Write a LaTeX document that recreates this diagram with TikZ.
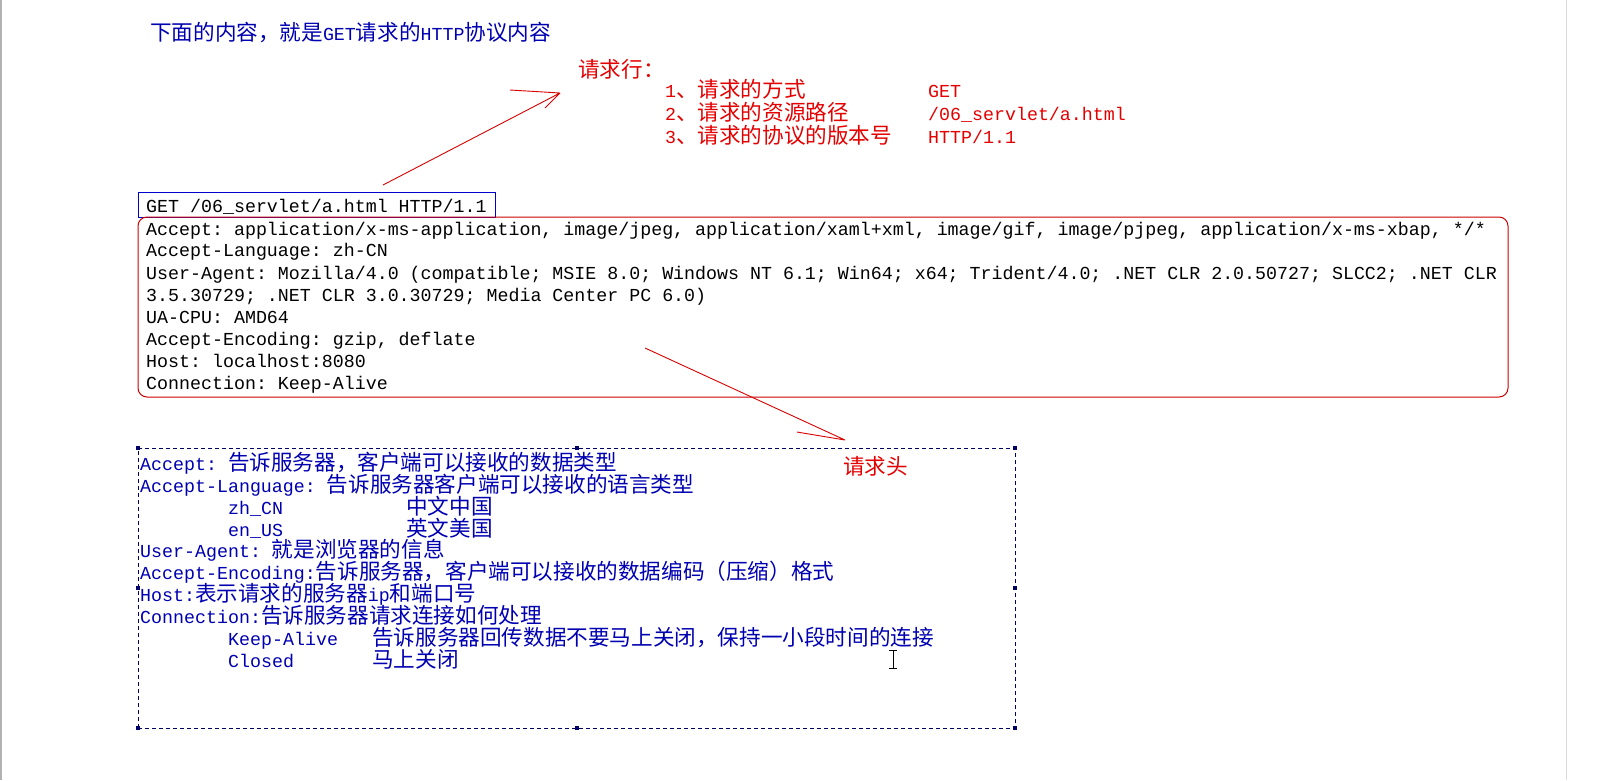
\documentclass[tikz,border=0pt]{standalone}
\usepackage{fontspec}
\setmonofont{Liberation Mono}
\newfontfamily\cjk{Noto Sans CJK SC}
\newcommand\zh[1]{{\cjk\fontsize{21.6}{22}\selectfont #1}}
\begin{document}
\begin{tikzpicture}[x=1pt,y=-1pt,
  txt/.style={anchor=base west,inner sep=0pt,font=\ttfamily\fontsize{18.3}{22}\selectfont},
  bl/.style={txt,text=blue!70!black},
  rd/.style={txt,text=red!90!black},
  bk/.style={txt,text=black},
  handle/.style={fill=blue!40!black,minimum size=4pt,inner sep=0pt}]
\useasboundingbox (0,0) rectangle (1604,780);
\fill[white] (0,0) rectangle (1604,780);
\draw[gray!60,line width=1.5pt] (1,0)--(1,780);
\draw[gray!30] (1566,0)--(1566,780);
\node[bl] (title) at (150,40) {\zh{下面的内容，就是}GET\zh{请求的}HTTP\zh{协议内容}};
% request line annotation
\node[rd] (rl) at (578,77) {\zh{请求行：}};
\node[rd] (r1) at (665,97) {1\zh{、请求的方式}};
\node[rd] (r2) at (665,120) {2\zh{、请求的资源路径}};
\node[rd] (r3) at (665,143) {3\zh{、请求的协议的版本号}};
\node[rd] (v1) at (928,97) {GET};
\node[rd] (v2) at (928,120) {/06\_servlet/a.html};
\node[rd] (v3) at (928,143) {HTTP/1.1};
% request boxes
\node[draw=blue!80!black,line width=1pt,minimum width=357pt,minimum height=25pt,inner sep=0pt] (reqline) at (316.5,204.5) {};
\node[bk] (l0) at (146,212) {GET /06\_servlet/a.html HTTP/1.1};
\node[draw=red!80!black,line width=1pt,rounded corners=9pt,minimum width=1370pt,minimum height=180pt,inner sep=0pt] (headers) at (823,307) {};
\node[bk] (h1) at (146,235) {Accept: application/x-ms-application, image/jpeg, application/xaml+xml, image/gif, image/pjpeg, application/x-ms-xbap, */*};
\node[bk] (h2) at (146,256) {Accept-Language: zh-CN};
\node[bk] (h3) at (146,279) {User-Agent: Mozilla/4.0 (compatible; MSIE 8.0; Windows NT 6.1; Win64; x64; Trident/4.0; .NET CLR 2.0.50727; SLCC2; .NET CLR};
\node[bk] (h4) at (146,301) {3.5.30729; .NET CLR 3.0.30729; Media Center PC 6.0)};
\node[bk] (h5) at (146,323) {UA-CPU: AMD64};
\node[bk] (h6) at (146,345) {Accept-Encoding: gzip, deflate};
\node[bk] (h7) at (146,367) {Host: localhost:8080};
\node[bk] (h8) at (146,389) {Connection: Keep-Alive};
% arrows
\coordinate (a1s) at (383,185); \coordinate (a1e) at (560,93);
\draw[red!85!black,line width=0.9pt] (a1s)--(a1e) (510,90)--(560,93) (545,108)--(a1e);
\coordinate (a2s) at (645,348); \coordinate (a2e) at (845,440);
\draw[red!85!black,line width=0.9pt] (a2s)--(a2e) (797,432)--(a2e);
\node[rd] (rh) at (843,474) {\zh{请求头}};
% dashed box
\node[draw=blue!40!black,dash pattern=on 4pt off 3pt,line width=0.8pt,minimum width=877pt,minimum height=280pt,inner sep=0pt] (desc) at (576.5,588) {};
\foreach \a in {north west,north,north east,east,south east,south,south west,west}
  \node[handle] at (desc.\a) {};
\node[bl] (d1) at (140,470) {Accept: \zh{告诉服务器，客户端可以接收的数据类型}};
\node[bl] (d2) at (140,492) {Accept-Language: \zh{告诉服务器客户端可以接收的语言类型}};
\node[bl] (d3) at (228,514) {zh\_CN};
\node[bl] (d3b) at (406,514) {\zh{中文中国}};
\node[bl] (d4) at (228,536) {en\_US};
\node[bl] (d4b) at (406,536) {\zh{英文美国}};
\node[bl] (d5) at (140,557) {User-Agent: \zh{就是浏览器的信息}};
\node[bl] (d6) at (140,579) {Accept-Encoding:\zh{告诉服务器，客户端可以接收的数据编码（压缩）格式}};
\node[bl] (d7) at (140,601) {Host:\zh{表示请求的服务器}ip\zh{和端口号}};
\node[bl] (d8) at (140,623) {Connection:\zh{告诉服务器请求连接如何处理}};
\node[bl] (d9) at (228,645) {Keep-Alive};
\node[bl] (d9b) at (372,645) {\zh{告诉服务器回传数据不要马上关闭，保持一小段时间的连接}};
\node[bl] (d10) at (228,667) {Closed};
\node[bl] (d10b) at (372,667) {\zh{马上关闭}};
\draw[black,line width=0.8pt] (893,650)--(893,668) (889,650)--(897,650) (889,668)--(897,668);
\end{tikzpicture}
\end{document}
